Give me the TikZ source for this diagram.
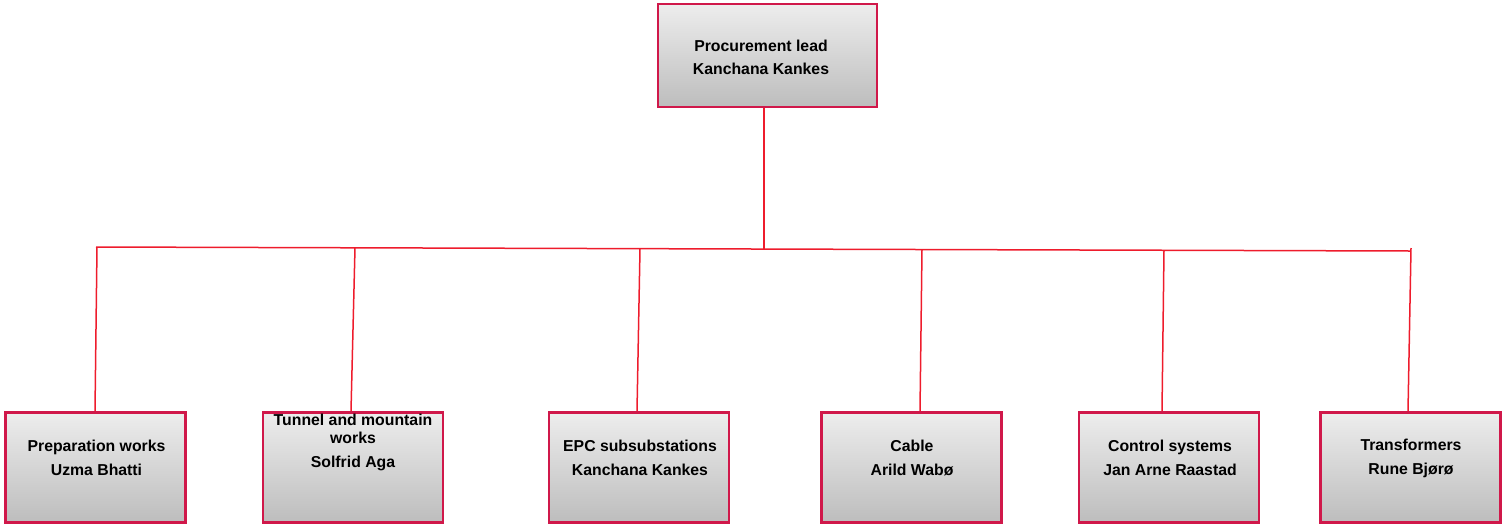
\documentclass[tikz,border=0pt]{standalone}
\usepackage{fontspec}
\setmainfont{Liberation Sans}
\definecolor{boxborder}{HTML}{D0184A}
\definecolor{conn}{HTML}{EE1C2C}
\definecolor{shtop}{HTML}{EDEDED}
\definecolor{shbot}{HTML}{BDBDBD}
\begin{document}
\begin{tikzpicture}[x=1pt,y=-1pt,
  orgbox/.style={draw=boxborder, line width=2.6pt, top color=shtop, bottom color=shbot, minimum width=#1, minimum height=110pt, inner sep=0pt},
  orgbox/.default=180pt,
  orgtext/.style={align=center, font=\bfseries\fontsize{15.8}{18}\selectfont, inner sep=0pt},
  wire/.style={draw=conn, line width=1.5pt}]
\useasboundingbox (0,0) rectangle (1502,528);
% boxes
\node[orgbox=219pt, minimum height=103pt] (top) at (767.5,55.5) {};
\node[orgbox] (b1) at (95.5,467.5) {};
\node[orgbox] (b2) at (353,467.5) {};
\node[orgbox] (b3) at (639,467.5) {};
\node[orgbox] (b4) at (911.5,467.5) {};
\node[orgbox] (b5) at (1169,467.5) {};
\node[orgbox] (b6) at (1410.5,467.5) {};
% texts
\node[orgtext] (t0) at (761,57) {Procurement lead\\[5pt]Kanchana Kankes};
\node[orgtext] (t1) at (96.5,458) {Preparation works\\[6pt]Uzma Bhatti};
\node[orgtext] (t2) at (353,442) {Tunnel and mountain\\works\\[6pt]Solfrid Aga};
\node[orgtext] (t3) at (640,458) {EPC subsubstations\\[6pt]Kanchana Kankes};
\node[orgtext] (t4) at (912,458) {Cable\\[6pt]Arild Wabø};
\node[orgtext] (t5) at (1170,458) {Control systems\\[6pt]Jan Arne Raastad};
\node[orgtext] (t6) at (1411,458) {Transformers\\[6pt]Rune Bjørø};
% bus
\coordinate (busL) at (96,247);
\coordinate (busR) at (1410,251);
\coordinate (busT) at (764,249);
\coordinate (d1) at (97,247);
\coordinate (d2) at (355,247.8);
\coordinate (d3) at (640,248.6);
\coordinate (d4) at (922,249.5);
\coordinate (d5) at (1164,250.2);
\coordinate (d6) at (1411,248);
\coordinate (e1) at (95,411);
\coordinate (e2) at (351,411);
\coordinate (e3) at (637,411);
\coordinate (e4) at (920,411);
\coordinate (e5) at (1162,411);
\coordinate (e6) at (1408,411);
\draw[wire] (top.south -| busT) -- (busT);
\draw[wire] (busL) -- (busR);
\foreach \i in {1,...,6} {\draw[wire] (d\i) -- (e\i);}
\end{tikzpicture}
\end{document}
